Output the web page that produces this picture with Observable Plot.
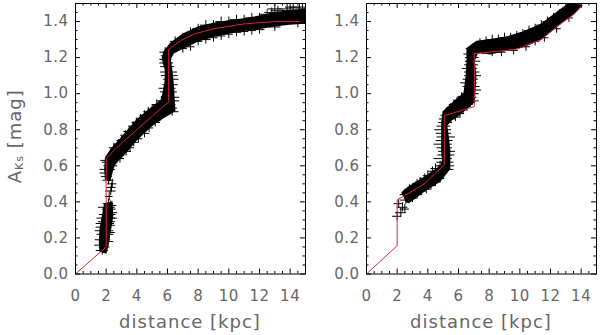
<!DOCTYPE html>
<html><head><meta charset="utf-8">
<script src="https://cdn.jsdelivr.net/npm/d3@7"></script>
<script src="https://cdn.jsdelivr.net/npm/@observablehq/plot@0.6"></script>
<style>
body{margin:0;background:#fff;}
#wrap{position:relative;width:600px;height:335px;overflow:hidden;background:#fff;}
#wrap svg{position:absolute;top:0;}
</style></head><body><div id="wrap"></div>
<script>
// ---- axes ----
const xDomain = [0, 15];
const yDomain = [0, 1.5];
const xTicks = [0, 2, 4, 6, 8, 10, 12, 14];
const xTickLabels = ["0", "2", "4", "6", "8", "10", "12", "14"];
const xMinor = [0.5, 1, 1.5, 2.5, 3, 3.5, 4.5, 5, 5.5, 6.5, 7, 7.5, 8.5, 9, 9.5, 10.5, 11, 11.5, 12.5, 13, 13.5, 14.5];
const yTicks = [0, 0.2, 0.4, 0.6, 0.8, 1.0, 1.2, 1.4];
const yTickLabels = ["0.0", "0.2", "0.4", "0.6", "0.8", "1.0", "1.2", "1.4"];
const yMinor = [0.05, 0.1, 0.15, 0.25, 0.3, 0.35, 0.45, 0.5, 0.55, 0.65, 0.7, 0.75, 0.85, 0.9, 0.95, 1.05, 1.1, 1.15, 1.25, 1.3, 1.35, 1.45];
const xTitle = "distance [kpc]";
const yTitleMain = "A", yTitleSub = "Ks", yTitleUnit = " [mag]";

// ---- left panel: extinction cloud envelope (upper-left edge d,A ; lower-right edge d,A) ----
const leftBandLow = [
  [1.60, 0.12, 2.05, 0.11], [1.55, 0.17, 2.20, 0.16], [1.60, 0.25, 2.35, 0.24],
  [1.75, 0.32, 2.50, 0.32], [1.90, 0.39, 2.45, 0.40]
];
const leftBandMain = [
  [1.95, 0.52, 2.30, 0.51], [1.90, 0.58, 2.45, 0.56], [1.95, 0.64, 2.60, 0.60],
  [2.30, 0.69, 2.90, 0.63], [3.00, 0.755, 3.20, 0.655], [4.00, 0.855, 4.00, 0.735],
  [5.00, 0.925, 5.00, 0.815], [5.60, 0.965, 5.75, 0.86], [5.70, 1.00, 6.55, 0.90],
  [5.85, 1.07, 6.45, 1.05], [5.85, 1.13, 6.35, 1.13], [5.65, 1.19, 6.25, 1.19],
  [5.75, 1.23, 6.45, 1.22], [6.20, 1.28, 7.00, 1.245], [7.00, 1.33, 7.30, 1.255],
  [8.00, 1.37, 8.00, 1.285], [9.00, 1.39, 9.00, 1.31], [10.00, 1.405, 10.00, 1.33],
  [11.00, 1.415, 11.00, 1.345], [12.00, 1.43, 12.00, 1.355], [13.00, 1.45, 13.00, 1.37],
  [14.00, 1.46, 14.00, 1.38], [15.00, 1.47, 15.00, 1.385]
];
// individual stars: distance, A_Ks, distance error
const leftStars = [
  [1.75,0.13,0.40],[1.90,0.15,0.35],[1.80,0.19,0.50],[1.95,0.22,0.55],[1.85,0.26,0.50],[2.05,0.29,0.55],
  [2.00,0.31,0.60],[2.10,0.33,0.55],[2.20,0.36,0.45],[2.15,0.39,0.35],[2.25,0.27,0.35],
  [1.70,0.16,0.45],[2.10,0.18,0.40],[1.90,0.24,0.60],[2.15,0.23,0.45],[1.95,0.28,0.60],
  [2.25,0.31,0.50],[2.30,0.34,0.45],[2.05,0.37,0.55],[2.30,0.38,0.40],
  [2.20,0.43,0.25],[2.30,0.46,0.35],[2.40,0.50,0.30],[2.35,0.48,0.30],
  [2.05,0.54,0.35],[2.10,0.58,0.50],[2.20,0.62,0.45],[2.60,0.66,0.35],
  [2.15,0.52,0.35],[2.00,0.56,0.40],[2.30,0.60,0.45],[2.00,0.63,0.35],
  [3.00,0.74,0.30],[3.50,0.79,0.35],[4.00,0.84,0.30],[4.50,0.88,0.30],[5.00,0.91,0.30],
  [2.50,0.70,0.30],[2.80,0.72,0.30],[3.25,0.77,0.30],[3.75,0.82,0.30],[4.25,0.86,0.30],
  [4.75,0.90,0.30],[5.30,0.94,0.30],[5.60,0.96,0.30],
  [3.30,0.68,0.35],[3.80,0.73,0.30],[4.50,0.78,0.35],[5.20,0.84,0.35],
  [2.90,0.64,0.30],[3.55,0.70,0.30],[4.10,0.75,0.30],[4.80,0.81,0.30],[5.50,0.87,0.30],
  [6.10,0.92,0.55],[6.20,0.96,0.60],[6.10,1.01,0.55],[6.20,1.05,0.50],[6.15,1.10,0.55],
  [6.00,1.15,0.45],[5.90,1.19,0.40],[5.95,1.21,0.35],
  [6.30,0.90,0.45],[6.00,0.94,0.55],[6.30,0.98,0.50],[6.00,1.03,0.55],[6.25,1.08,0.50],
  [6.10,1.12,0.55],[5.95,1.17,0.45],[5.85,1.23,0.35],
  [7.50,1.34,0.30],[8.50,1.38,0.35],[9.50,1.40,0.35],[10.50,1.41,0.40],[11.50,1.42,0.40],
  [12.50,1.44,0.45],[13.20,1.46,0.45],[13.80,1.47,0.50],[14.60,1.48,0.50],[14.30,1.44,0.50],[15.00,1.45,0.40],
  [6.50,1.29,0.30],[7.00,1.31,0.30],[8.00,1.36,0.35],[9.00,1.38,0.35],[10.00,1.40,0.40],
  [11.00,1.41,0.40],[12.00,1.42,0.45],[12.80,1.45,0.45],[13.50,1.44,0.50],[14.00,1.46,0.50],
  [14.80,1.47,0.45],[13.00,1.47,0.45],[14.20,1.48,0.50],
  [7.50,1.26,0.30],[8.50,1.30,0.35],[9.50,1.32,0.30],[10.50,1.34,0.35],[11.50,1.35,0.30],[14.50,1.39,0.50],
  [7.00,1.25,0.30],[8.00,1.29,0.30],[9.00,1.31,0.30],[10.00,1.33,0.30],[11.00,1.345,0.30],
  [12.00,1.355,0.35],[13.00,1.37,0.40]
];
const leftFit = [
  [0, 0], [2.0, 0.15], [2.0, 0.64], [2.5, 0.685], [3.0, 0.725], [4.0, 0.80], [5.0, 0.875],
  [6.08, 0.955], [6.08, 1.245], [6.85, 1.294], [7.7, 1.33], [9.0, 1.36], [11.0, 1.387],
  [13.1, 1.40], [15.0, 1.40]
];

// ---- right panel ----
const rightBandMain = [
  [2.30, 0.45, 2.60, 0.395], [2.70, 0.48, 2.80, 0.39], [3.76, 0.535, 3.76, 0.45],
  [4.86, 0.60, 4.86, 0.51], [4.95, 0.63, 5.50, 0.58], [4.90, 0.68, 5.50, 0.68],
  [4.90, 0.76, 5.40, 0.76], [4.90, 0.84, 5.30, 0.82], [5.00, 0.90, 5.60, 0.85],
  [5.95, 0.975, 6.00, 0.87], [6.35, 1.00, 6.70, 0.92], [6.40, 1.03, 7.10, 0.95],
  [6.50, 1.10, 7.20, 1.10], [6.55, 1.18, 7.10, 1.18], [6.55, 1.25, 7.30, 1.22],
  [7.20, 1.29, 7.60, 1.22], [8.10, 1.30, 8.10, 1.215], [9.20, 1.315, 9.20, 1.235],
  [10.30, 1.345, 10.30, 1.255], [11.40, 1.385, 11.40, 1.295], [12.50, 1.455, 12.50, 1.37],
  [13.20, 1.50, 13.60, 1.44], [13.60, 1.50, 14.10, 1.49]
];
const rightStars = [
  [2.00,0.32,0.30],[2.24,0.34,0.35],[2.35,0.37,0.35],[2.10,0.39,0.30],[2.50,0.36,0.30],[2.57,0.41,0.35],
  [2.80,0.47,0.30],[3.30,0.50,0.30],[3.80,0.53,0.30],[4.30,0.57,0.30],[4.80,0.60,0.30],
  [3.00,0.42,0.30],[3.60,0.46,0.30],[4.20,0.49,0.30],[4.80,0.53,0.30],
  [2.50,0.44,0.30],[3.10,0.48,0.30],[3.50,0.51,0.30],[4.00,0.545,0.30],[4.50,0.585,0.30],
  [3.30,0.44,0.30],[3.90,0.47,0.30],[4.50,0.51,0.30],
  [5.20,0.58,0.50],[5.15,0.62,0.55],[5.20,0.66,0.55],[5.10,0.70,0.50],[5.10,0.74,0.55],
  [5.05,0.78,0.50],[5.05,0.82,0.45],[5.10,0.86,0.35],
  [5.20,0.60,0.55],[5.00,0.64,0.60],[5.25,0.68,0.55],[5.00,0.72,0.60],[5.20,0.76,0.60],
  [5.00,0.80,0.55],[5.15,0.84,0.45],[5.25,0.88,0.40],
  [5.50,0.92,0.30],[6.00,0.96,0.30],[5.80,0.87,0.35],[6.30,0.91,0.35],
  [5.30,0.90,0.30],[5.70,0.94,0.30],[6.20,0.98,0.30],[5.50,0.86,0.30],[6.10,0.89,0.30],[6.50,0.93,0.35],
  [6.90,0.96,0.45],[6.80,1.00,0.55],[6.85,1.04,0.55],[6.80,1.08,0.50],[6.90,1.12,0.50],
  [6.85,1.16,0.45],[6.90,1.20,0.45],
  [6.70,0.98,0.50],[6.95,1.02,0.55],[6.70,1.06,0.55],[6.95,1.10,0.55],[6.75,1.14,0.50],
  [6.95,1.18,0.50],[6.80,1.22,0.45],[6.90,1.25,0.40],
  [7.80,1.29,0.30],[8.60,1.30,0.35],[9.40,1.31,0.35],[10.20,1.33,0.30],[11.00,1.36,0.30],
  [11.80,1.40,0.30],[12.60,1.44,0.30],[13.30,1.48,0.30],[8.20,1.23,0.30],[9.60,1.24,0.30],[11.00,1.29,0.30],
  [7.40,1.28,0.30],[8.20,1.30,0.30],[9.00,1.31,0.30],[9.80,1.32,0.30],[10.60,1.35,0.30],
  [11.40,1.38,0.30],[12.20,1.42,0.30],[13.00,1.46,0.30],[13.70,1.49,0.30],
  [7.60,1.24,0.30],[8.80,1.23,0.30],[10.40,1.26,0.30],[11.60,1.31,0.30],[12.40,1.36,0.30],[13.20,1.42,0.30]
];
const rightFit = [
  [0, 0], [2.0, 0.157], [2.0, 0.41], [2.46, 0.433], [3.77, 0.50], [5.07, 0.605],
  [5.07, 0.878], [7.03, 0.928], [7.03, 1.222], [9.86, 1.247], [10.3, 1.265], [11.4, 1.30],
  [12.5, 1.378], [13.57, 1.443], [14.1, 1.49]
];
const starAErr = 0.025;

const textColor = "#666";
const fitColor = "#e0203a";

function panel({bands, stars, fit, width, marginLeft, marginRight, withYTitle}) {
  const height = 335, marginTop = 3, marginBottom = 61.5;
  const plotH = height - marginTop - marginBottom;
  const plotW = width - marginLeft - marginRight;
  const bandRows = bands.flatMap((seg, s) => seg.map(([uD, uA, lD, lA]) => ({s, uD, uA, lD, lA})));
  const starRows = stars.map(([d, A, e]) => ({d, A, e}));
  const fitRows = fit.map(([d, A]) => ({d, A}));
  const svg = Plot.plot({
    width, height, marginTop, marginBottom, marginLeft, marginRight,
    x: {domain: xDomain},
    y: {domain: yDomain},
    style: {fontFamily: "DejaVu Sans, sans-serif", fontSize: "15px", color: textColor, background: "transparent", letterSpacing: "0.5px"},
    marks: [
      Plot.area(bandRows, {x1: "uD", y1: "uA", x2: "lD", y2: "lA", z: "s", fill: "black", clip: true}),
      Plot.ruleY(starRows, {y: "A", x1: d => d.d - d.e, x2: d => d.d + d.e, stroke: "black", strokeWidth: 1, clip: true}),
      Plot.ruleX(starRows, {x: "d", y1: d => d.A - starAErr, y2: d => d.A + starAErr, stroke: "black", strokeWidth: 1, clip: true}),
      Plot.line(fitRows, {x: "d", y: "A", stroke: fitColor, strokeWidth: 1, clip: true}),
      Plot.frame({stroke: "black"}),
      Plot.tickX(xTicks, {x: d => d, insetTop: plotH - 5, stroke: "black"}),
      Plot.tickX(xTicks, {x: d => d, insetBottom: plotH - 5, stroke: "black"}),
      Plot.tickX(xMinor, {x: d => d, insetTop: plotH - 2.5, stroke: "black"}),
      Plot.tickX(xMinor, {x: d => d, insetBottom: plotH - 2.5, stroke: "black"}),
      Plot.tickY(yTicks, {y: d => d, insetRight: plotW - 5, stroke: "black"}),
      Plot.tickY(yTicks, {y: d => d, insetLeft: plotW - 5, stroke: "black"}),
      Plot.tickY(yMinor, {y: d => d, insetRight: plotW - 2.5, stroke: "black"}),
      Plot.tickY(yMinor, {y: d => d, insetLeft: plotW - 2.5, stroke: "black"}),
      Plot.axisX(xTicks, {tickSize: 0, tickPadding: 16, tickFormat: d => xTickLabels[xTicks.indexOf(d)], label: null}),
      Plot.axisY(yTicks, {tickSize: 0, tickPadding: 7, tickFormat: d => yTickLabels[yTicks.indexOf(d)], label: null})
    ]
  });
  const s = d3.select(svg);
  s.append("text")
    .attr("x", marginLeft + plotW / 2).attr("y", 328)
    .attr("text-anchor", "middle").attr("fill", textColor)
    .style("font-size", "18px").style("letter-spacing", "1px")
    .text(xTitle);
  if (withYTitle) {
    const t = s.append("text")
      .attr("transform", `translate(21,${marginTop + plotH / 2 - 2}) rotate(-90)`)
      .attr("text-anchor", "middle").attr("fill", textColor)
      .style("font-size", "18px").style("letter-spacing", "1px");
    t.append("tspan").text(yTitleMain);
    t.append("tspan").attr("dy", 2).style("font-size", "11px").text(yTitleSub);
    t.append("tspan").attr("dy", -2).text(yTitleUnit);
  }
  return svg;
}

const wrap = document.getElementById("wrap");
const left = panel({bands: [leftBandLow, leftBandMain], stars: leftStars, fit: leftFit, width: 310, marginLeft: 75, marginRight: 5, withYTitle: true});
left.style.left = "0px";
wrap.appendChild(left);
const right = panel({bands: [rightBandMain], stars: rightStars, fit: rightFit, width: 290, marginLeft: 56, marginRight: 4, withYTitle: false});
right.style.left = "310px";
wrap.appendChild(right);
</script>
</body></html>
